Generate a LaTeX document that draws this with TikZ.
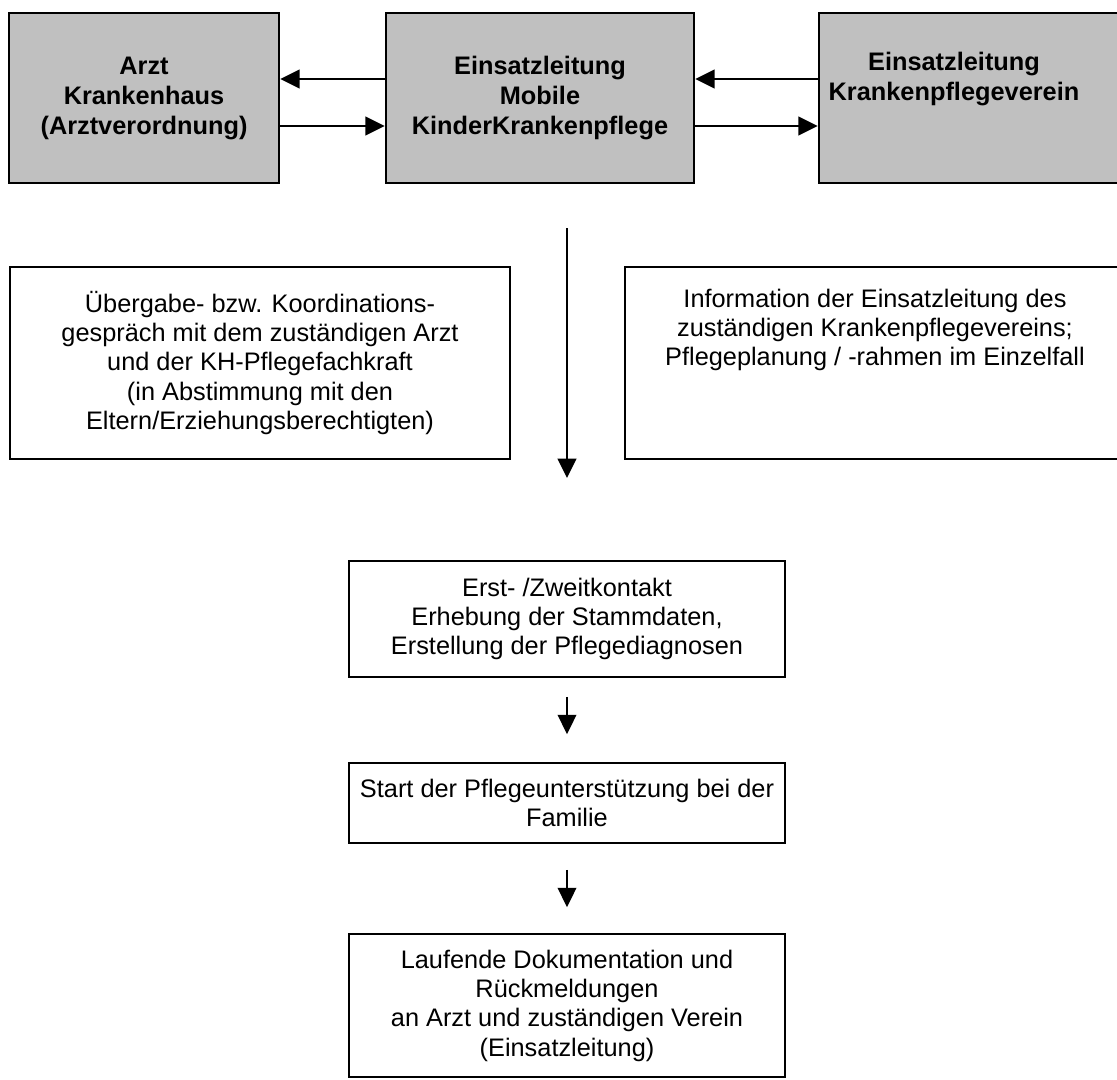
\documentclass[tikz,border=0pt]{standalone}
\usepackage{fontspec}
\setmainfont{Liberation Sans}
\usepackage{tikz}
\usetikzlibrary{arrows.meta,positioning,calc}
\definecolor{boxgray}{RGB}{192,192,192}

\begin{document}
\begin{tikzpicture}[
  x=0.75pt,y=-0.75pt,
  every node/.style={font=\fontsize{19pt}{22pt}\selectfont,align=center,inner sep=0pt},
  headbox/.style={draw,line width=1.9pt,fill=boxgray,font=\fontsize{19pt}{22.5pt}\selectfont\bfseries,minimum height=127.5pt},
  flowbox/.style={draw,line width=1.3pt,fill=white},
  arr/.style={-{Triangle[length=14.5pt,width=14pt]},line width=1.3pt}
]
\useasboundingbox (0,0) rectangle (1117,1079);
\clip (0,0) rectangle (1117,1079);
% top row
\node[headbox,minimum width=202.5pt] (arzt) at (144,98) {Arzt\\Krankenhaus\\(Arztverordnung)};
\node[headbox,minimum width=231pt] (mobil) at (540,98) {Einsatzleitung\\Mobile\\KinderKrankenpflege};
\node[headbox,minimum width=240.75pt] (vereinbox) at (979.5,98) {};
\node[font=\fontsize{19pt}{22.5pt}\selectfont\bfseries] (verein) at (954,79) {Einsatzleitung\\Krankenpflegeverein};
\draw[arr] ($(mobil.west)+(0,-19)$) -- ($(arzt.east)+(0,-19)$);
\draw[arr] ($(arzt.east)+(0,28)$) -- ($(mobil.west)+(0,28)$);
\draw[arr] ($(vereinbox.west)+(0,-19)$) -- ($(mobil.east)+(0,-19)$);
\draw[arr] ($(mobil.east)+(0,28)$) -- ($(vereinbox.west)+(0,28)$);
% middle row
\node[flowbox,minimum width=375pt,minimum height=144pt] (uebergabe) at (260,363) {Übergabe- bzw. Koordinations-\\gespräch mit dem zuständigen Arzt\\und der KH-Pflegefachkraft\\(in Abstimmung mit den\\Eltern/Erziehungsberechtigten)};
\node[flowbox,minimum width=386.25pt,minimum height=144pt] (infobox) at (882.5,363) {};
\node (info) at (875,330) {Information der Einsatzleitung des\\zuständigen Krankenpflegevereins;\\Pflegeplanung / -rahmen im Einzelfall};
\coordinate (flowtop) at (567,228);
\coordinate (flowend) at (567,478);
\draw[arr] (flowtop) -- (flowend);
% steps
\node[flowbox,minimum width=327pt,minimum height=87pt] (kontakt) at (567,619) {Erst- /Zweitkontakt\\Erhebung der Stammdaten,\\Erstellung der Pflegediagnosen};
\node[flowbox,minimum width=327pt,minimum height=60pt] (start) at (567,803) {Start der Pflegeunterstützung bei der\\Familie};
\node[flowbox,minimum width=327pt,minimum height=107.25pt] (doku) at (567,1005.5) {Laufende Dokumentation und\\Rückmeldungen\\an Arzt und zuständigen Verein\\(Einsatzleitung)};
\draw[arr,shorten <=14.25pt,shorten >=21pt] (kontakt) -- (start);
\draw[arr,shorten <=19.5pt,shorten >=19.5pt] (start) -- (doku);
\end{tikzpicture}
\end{document}
